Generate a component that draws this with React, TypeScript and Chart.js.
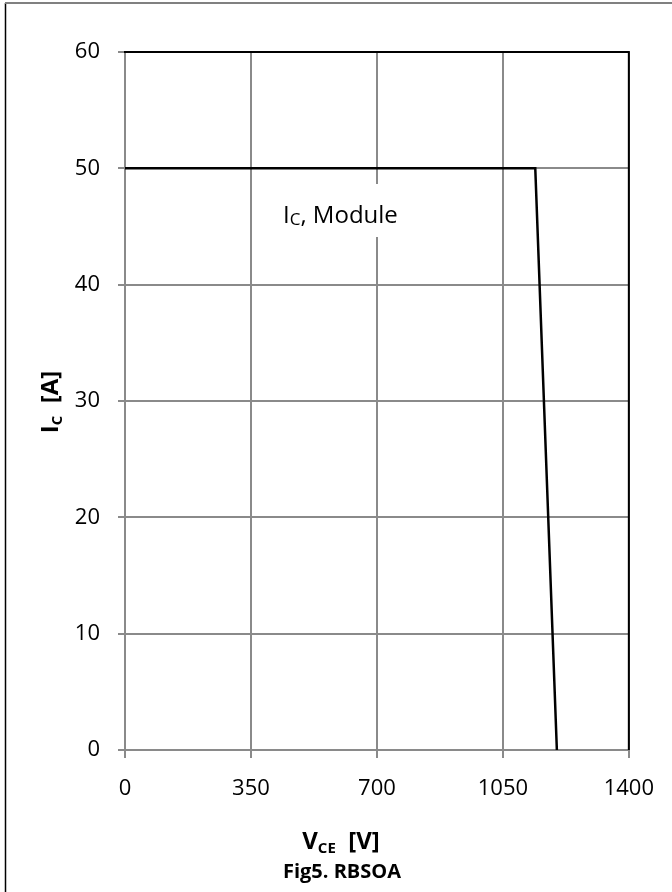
import React, { useEffect, useRef } from "react";
import { Chart, registerables } from "chart.js";

Chart.register(...registerables);

const vceValues = [0, 1140, 1200];
const icValues = [50, 50, 0];
const xTicks = [0, 350, 700, 1050, 1400];
const yTicks = [0, 10, 20, 30, 40, 50, 60];

const FONT = "'Open Sans', 'Liberation Sans', sans-serif";
const GRID = "#8a8a8a";

type Run = { text: string; font: string; dy?: number };

function drawRuns(ctx: CanvasRenderingContext2D, runs: Run[], x: number, y: number, align: "left" | "center") {
  let total = 0;
  for (const r of runs) {
    ctx.font = r.font;
    total += ctx.measureText(r.text).width;
  }
  let cx = align === "center" ? x - total / 2 : x;
  ctx.textAlign = "left";
  ctx.textBaseline = "alphabetic";
  for (const r of runs) {
    ctx.font = r.font;
    ctx.fillText(r.text, cx, y + (r.dy || 0));
    cx += ctx.measureText(r.text).width;
  }
}

const deco = {
  id: "deco",
  beforeDraw(chart: any) {
    const ctx = chart.ctx as CanvasRenderingContext2D;
    ctx.save();
    ctx.fillStyle = "#fff";
    ctx.fillRect(0, 0, chart.width, chart.height);
    ctx.strokeStyle = "#000";
    ctx.lineWidth = 1.5;
    ctx.beginPath();
    ctx.moveTo(5.5, 3);
    ctx.lineTo(5.5, chart.height);
    ctx.stroke();
    ctx.strokeStyle = "#808080";
    ctx.lineWidth = 2;
    ctx.beginPath();
    ctx.moveTo(5, 3);
    ctx.lineTo(chart.width, 3);
    ctx.stroke();
    ctx.restore();
  },
  afterDatasetsDraw(chart: any) {
    const ctx = chart.ctx as CanvasRenderingContext2D;
    const a = chart.chartArea;
    ctx.save();
    ctx.strokeStyle = "#000";
    ctx.lineWidth = 2;
    ctx.beginPath();
    ctx.moveTo(a.left - 1, a.top);
    ctx.lineTo(a.right, a.top);
    ctx.lineTo(a.right, a.bottom);
    ctx.stroke();
    ctx.fillStyle = "#fff";
    ctx.fillRect(276, 184, 130, 53);
    ctx.fillStyle = "#000";
    drawRuns(
      ctx,
      [
        { text: "I", font: `24px ${FONT}` },
        { text: "C", font: `17px ${FONT}`, dy: 2 },
        { text: ", Module", font: `24px ${FONT}` },
      ],
      283,
      223,
      "left"
    );
    ctx.save();
    ctx.translate(58, 402);
    ctx.rotate(-Math.PI / 2);
    drawRuns(
      ctx,
      [
        { text: "I", font: `bold 24px ${FONT}` },
        { text: "C", font: `bold 15px ${FONT}`, dy: 4 },
        { text: "  [A]", font: `bold 24px ${FONT}` },
      ],
      0,
      0,
      "center"
    );
    ctx.restore();
    drawRuns(
      ctx,
      [
        { text: "V", font: `bold 24px ${FONT}` },
        { text: "CE", font: `bold 15px ${FONT}`, dy: 4 },
        { text: "  [V]", font: `bold 24px ${FONT}` },
      ],
      341,
      849,
      "center"
    );
    drawRuns(ctx, [{ text: "Fig5. RBSOA", font: `bold 20px ${FONT}` }], 342, 878, "center");
    ctx.restore();
  },
};

export default function App() {
  const ref = useRef<HTMLCanvasElement | null>(null);
  useEffect(() => {
    if (!ref.current) return;
    const points = vceValues.map((v, i) => ({ x: v, y: icValues[i] }));
    const chart = new Chart(ref.current, {
      type: "scatter",
      data: {
        datasets: [
          {
            label: "IC, Module",
            data: points,
            showLine: true,
            borderColor: "#000",
            borderWidth: 2.5,
            pointRadius: 0,
            fill: false,
          },
        ],
      },
      options: {
        responsive: false,
        animation: false,
        events: [],
        layout: { padding: { left: 0, top: 52, right: 39, bottom: 0 } },
        plugins: { legend: { display: false }, tooltip: { enabled: false }, title: { display: false } },
        scales: {
          x: {
            type: "linear",
            min: xTicks[0],
            max: xTicks[xTicks.length - 1],
            afterBuildTicks: (s: any) => {
              s.ticks = xTicks.map((v) => ({ value: v }));
            },
            afterFit: (s: any) => {
              s.height = 142;
            },
            grid: { color: GRID, lineWidth: 2, tickLength: 8, drawTicks: true },
            border: { color: GRID, width: 2 },
            ticks: {
              color: "#000",
              font: { family: FONT, size: 22 },
              padding: 18,
              maxRotation: 0,
              autoSkip: false,
              callback: (v: any) => String(v),
            },
          },
          y: {
            type: "linear",
            min: yTicks[0],
            max: yTicks[yTicks.length - 1],
            afterBuildTicks: (s: any) => {
              s.ticks = yTicks.map((v) => ({ value: v }));
            },
            afterFit: (s: any) => {
              s.width = 125;
            },
            grid: { color: GRID, lineWidth: 2, tickLength: 7, drawTicks: true },
            border: { color: GRID, width: 2 },
            ticks: {
              color: "#000",
              font: { family: FONT, size: 22 },
              padding: 18,
              autoSkip: false,
              callback: (v: any) => String(v),
            },
          },
        },
      },
      plugins: [deco],
    });
    return () => chart.destroy();
  }, []);
  return (
    <div style={{ position: "absolute", left: 0, top: 0, width: 672, height: 892, background: "#fff" }}>
      <canvas ref={ref} width={672} height={892} style={{ width: 672, height: 892, display: "block" }} />
    </div>
  );
}
